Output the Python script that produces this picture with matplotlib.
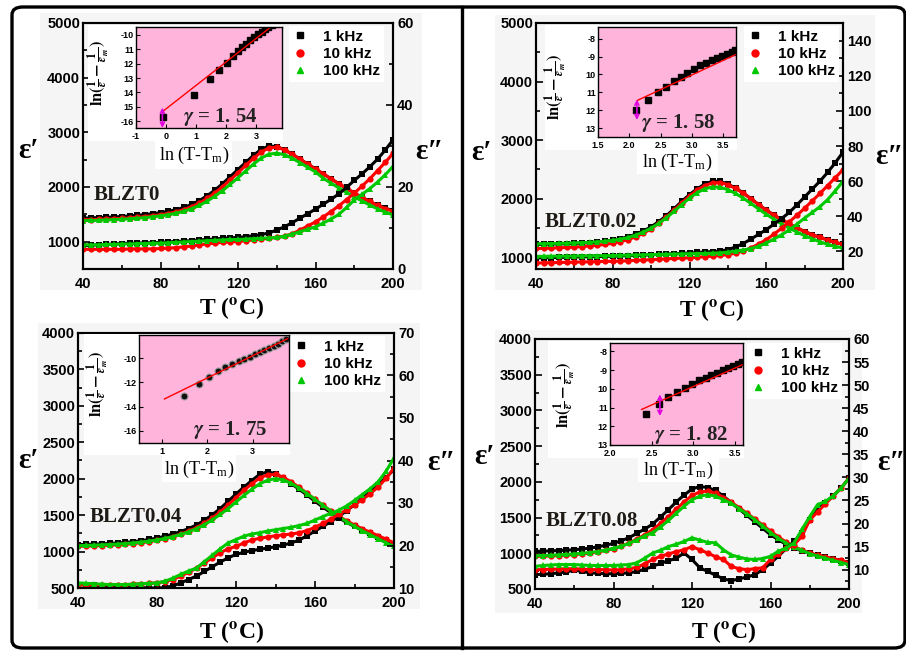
import numpy as np
import matplotlib.pyplot as plt
from matplotlib.patches import Rectangle, FancyBboxPatch
from matplotlib.lines import Line2D
from matplotlib.ticker import MultipleLocator, FixedLocator, FixedFormatter

plt.rcParams['font.family'] = ['Liberation Sans', 'DejaVu Sans']
plt.rcParams['font.weight'] = 'bold'
plt.rcParams['mathtext.fontset'] = 'stix'

# ---------------------------------------------------------------------------
# Data, temperature grid in degC
# ---------------------------------------------------------------------------
T = np.arange(40, 201, 4)
freqs = ['1 kHz', '10 kHz', '100 kHz']

# BLZT0
e1_p1 = [1430, 1435, 1440, 1445, 1452, 1460, 1470, 1482, 1496, 1512, 1530, 1555, 1585, 1625, 1680, 1750, 1840, 1940, 2060, 2190, 2320,
         2450, 2580, 2690, 2750, 2740, 2680, 2600, 2510, 2420, 2330, 2240, 2150, 2060, 1975, 1890, 1810, 1735, 1665, 1610, 1570]
e1_p2 = [1400, 1403, 1407, 1412, 1418, 1425, 1434, 1445, 1458, 1474, 1492, 1515, 1545, 1585, 1638, 1705, 1790, 1890, 2005, 2130, 2260,
         2395, 2525, 2640, 2715, 2730, 2680, 2600, 2510, 2420, 2330, 2240, 2150, 2060, 1975, 1890, 1810, 1735, 1665, 1605, 1555]
e1_p3 = [1385, 1388, 1392, 1397, 1403, 1410, 1418, 1428, 1440, 1455, 1472, 1493, 1520, 1555, 1602, 1662, 1740, 1830, 1935, 2050, 2170,
         2295, 2420, 2530, 2600, 2620, 2590, 2525, 2445, 2360, 2275, 2160, 2070, 1985, 1900, 1820, 1745, 1670, 1600, 1540, 1490]
e2_p1 = [5.7, 5.8, 5.9, 6.0, 6.1, 6.2, 6.3, 6.3, 6.4, 6.4, 6.5, 6.6, 6.7, 6.8, 6.9, 7.1, 7.2, 7.3, 7.5, 7.6, 7.7,
         7.9, 8.1, 8.4, 8.8, 9.5, 10.3, 11.3, 12.4, 13.5, 14.6, 15.8, 17.0, 18.3, 19.9, 21.6, 23.2, 24.9, 26.8, 29.0, 31.5]
e2_p2 = [4.8, 4.8, 4.8, 4.8, 4.8, 4.8, 4.9, 4.9, 4.9, 4.9, 5.0, 5.1, 5.2, 5.4, 5.6, 5.9, 6.1, 6.3, 6.5, 6.6, 6.7,
         6.9, 7.1, 7.3, 7.5, 7.7, 8.0, 8.6, 9.5, 10.5, 11.5, 12.7, 14.0, 15.4, 16.9, 18.5, 20.2, 22.0, 24.0, 26.0, 28.2]
e2_p3 = [5.9, 5.9, 5.9, 6.0, 6.0, 6.1, 6.1, 6.2, 6.2, 6.3, 6.3, 6.4, 6.5, 6.6, 6.7, 6.8, 6.9, 7.0, 7.1, 7.2, 7.2,
         7.3, 7.4, 7.5, 7.6, 7.7, 8.0, 8.5, 9.1, 9.7, 10.3, 11.2, 12.2, 13.3, 15.0, 16.8, 18.2, 19.6, 21.2, 23.0, 25.0]

# BLZT0.02
e1_q1 = [1220, 1222, 1225, 1228, 1232, 1237, 1243, 1250, 1260, 1275, 1295, 1320, 1350, 1395, 1450, 1520, 1610, 1710, 1830, 1955, 2070,
         2170, 2250, 2300, 2295, 2250, 2180, 2100, 2000, 1900, 1805, 1720, 1640, 1570, 1500, 1440, 1385, 1340, 1295, 1255, 1220]
e1_q2 = [1150, 1153, 1157, 1162, 1168, 1175, 1183, 1193, 1205, 1220, 1240, 1268, 1302, 1350, 1410, 1485, 1580, 1685, 1805, 1930, 2045,
         2145, 2225, 2270, 2275, 2240, 2175, 2095, 2000, 1900, 1805, 1720, 1640, 1570, 1500, 1440, 1385, 1340, 1295, 1255, 1220]
e1_q3 = [1230, 1232, 1235, 1238, 1241, 1245, 1250, 1256, 1264, 1275, 1290, 1310, 1338, 1380, 1432, 1498, 1580, 1675, 1785, 1900, 2010,
         2105, 2170, 2200, 2195, 2155, 2090, 2010, 1920, 1825, 1735, 1650, 1570, 1500, 1430, 1370, 1315, 1265, 1220, 1185, 1160]
e2_q1 = [16.3, 16.4, 16.5, 16.6, 16.7, 16.8, 16.9, 17.0, 17.1, 17.2, 17.3, 17.4, 17.6, 17.7, 17.9, 18.1, 18.3, 18.5, 18.7, 18.9, 19.1,
         19.4, 19.7, 19.9, 20.2, 21.0, 22.5, 24.5, 27.0, 29.7, 32.4, 35.5, 38.7, 42.2, 46.5, 51.0, 55.5, 60.0, 65.0, 70.5, 76.5]
e2_q2 = [13.4, 13.5, 13.6, 13.7, 13.8, 13.9, 14.0, 14.1, 14.2, 14.3, 14.4, 14.5, 14.7, 14.9, 15.1, 15.3, 15.5, 15.8, 16.0, 16.2, 16.4,
         16.7, 17.0, 17.3, 17.7, 18.2, 19.0, 20.2, 22.0, 24.2, 26.7, 29.8, 33.2, 36.8, 40.6, 44.6, 48.8, 53.0, 57.5, 62.0, 66.5]
e2_q3 = [17.2, 17.2, 17.3, 17.3, 17.4, 17.4, 17.5, 17.5, 17.6, 17.6, 17.7, 17.8, 17.9, 18.0, 18.1, 18.2, 18.3, 18.4, 18.5, 18.6, 18.7,
         18.8, 18.9, 19.0, 19.2, 19.6, 20.2, 20.8, 21.6, 23.0, 24.8, 27.0, 29.5, 32.2, 35.5, 39.0, 42.2, 45.5, 49.5, 54.5, 60.0]

# BLZT0.04
e1_r1 = [1095, 1098, 1102, 1106, 1111, 1118, 1126, 1136, 1150, 1166, 1186, 1210, 1240, 1275, 1315, 1365, 1430, 1505, 1590, 1690, 1790,
         1885, 1975, 2060, 2095, 2070, 2005, 1930, 1855, 1775, 1690, 1610, 1535, 1465, 1400, 1345, 1295, 1250, 1205, 1155, 1100]
e1_r2 = [1072, 1075, 1079, 1083, 1088, 1094, 1101, 1110, 1122, 1137, 1155, 1178, 1205, 1240, 1280, 1328, 1390, 1460, 1545, 1640, 1740,
         1840, 1930, 2010, 2055, 2060, 2020, 1955, 1880, 1800, 1715, 1635, 1558, 1488, 1422, 1365, 1312, 1265, 1218, 1170, 1120]
e1_r3 = [1081, 1084, 1088, 1092, 1097, 1103, 1110, 1119, 1130, 1144, 1160, 1180, 1205, 1235, 1270, 1315, 1370, 1435, 1510, 1590, 1680,
         1770, 1855, 1930, 1980, 2000, 1985, 1935, 1870, 1795, 1715, 1635, 1555, 1480, 1410, 1345, 1285, 1230, 1175, 1120, 1070]
e2_r1 = [10.8, 10.7, 10.6, 10.5, 10.5, 10.4, 10.3, 10.2, 10.1, 10.0, 10.0, 10.1, 10.5, 11.2, 12.0, 12.8, 13.9, 15.0, 16.1, 17.1, 17.9,
         18.4, 18.8, 19.1, 19.4, 19.7, 20.1, 20.6, 21.3, 22.3, 23.4, 24.5, 25.6, 26.8, 28.2, 29.6, 31.1, 32.7, 34.3, 36.0, 37.9]
e2_r2 = [10.8, 10.8, 10.8, 10.8, 10.8, 10.8, 10.8, 10.9, 11.0, 11.1, 11.2, 11.5, 12.0, 12.8, 13.7, 14.7, 15.9, 17.1, 18.3, 19.2, 19.8,
         20.6, 21.3, 21.7, 22.0, 22.3, 22.5, 22.7, 23.0, 23.5, 24.3, 25.2, 26.2, 27.3, 28.4, 29.6, 30.8, 32.2, 33.8, 35.8, 38.2]
e2_r3 = [11.2, 11.1, 11.0, 10.9, 10.8, 10.8, 10.8, 10.9, 11.0, 11.1, 11.2, 11.6, 12.3, 13.2, 14.0, 14.7, 16.2, 17.7, 19.2, 20.6, 21.4,
         22.2, 22.7, 23.0, 23.4, 23.7, 24.0, 24.3, 24.7, 25.2, 26.0, 26.8, 27.6, 28.3, 29.3, 30.6, 32.0, 33.4, 35.0, 37.5, 40.6]

# BLZT0.08
e1_s1 = [1027, 1030, 1034, 1038, 1044, 1050, 1060, 1072, 1090, 1112, 1140, 1175, 1220, 1280, 1340, 1410, 1510, 1610, 1720, 1815, 1900,
         1935, 1920, 1880, 1800, 1710, 1620, 1530, 1440, 1350, 1260, 1190, 1125, 1075, 1035, 1000, 970, 945, 920, 895, 865]
e1_s2 = [957, 960, 964, 969, 975, 982, 992, 1004, 1020, 1040, 1065, 1100, 1145, 1200, 1260, 1330, 1420, 1515, 1620, 1720, 1810,
         1860, 1870, 1840, 1780, 1715, 1640, 1560, 1480, 1395, 1310, 1230, 1155, 1095, 1045, 1005, 975, 950, 925, 900, 870]
e1_s3 = [966, 969, 973, 978, 984, 991, 1000, 1010, 1025, 1045, 1070, 1100, 1140, 1190, 1245, 1290, 1370, 1460, 1560, 1660, 1750,
         1800, 1820, 1800, 1750, 1700, 1625, 1550, 1470, 1380, 1290, 1210, 1140, 1085, 1040, 995, 960, 930, 900, 870, 841]
e2_s1 = [8.9, 9.0, 9.1, 9.3, 9.5, 9.9, 9.6, 9.3, 9.2, 9.1, 9.1, 9.2, 9.3, 9.6, 10.1, 10.7, 11.4, 11.9, 12.5, 13.6, 12.2,
         10.4, 9.6, 8.8, 8.0, 7.6, 8.0, 8.4, 8.9, 10.0, 11.4, 12.9, 14.6, 16.1, 17.9, 20.8, 23.0, 24.5, 26.0, 27.7, 29.8]
e2_s2 = [10.0, 10.0, 10.1, 10.1, 10.2, 10.2, 10.1, 10.0, 10.0, 10.0, 9.9, 10.0, 10.2, 10.5, 11.3, 12.2, 12.9, 13.4, 13.9, 14.3, 15.0,
         14.3, 13.6, 12.8, 12.2, 10.7, 10.2, 10.0, 10.2, 10.4, 12.2, 13.4, 14.6, 15.4, 17.2, 20.8, 22.5, 24.3, 26.0, 27.7, 29.8]
e2_s3 = [10.7, 10.9, 11.0, 11.1, 11.1, 11.1, 11.0, 10.9, 10.9, 10.9, 10.9, 11.0, 11.1, 11.5, 12.5, 13.6, 14.2, 15.0, 15.5, 16.1, 16.9,
         16.4, 15.9, 15.8, 14.3, 13.2, 12.7, 12.3, 12.2, 12.4, 12.9, 14.0, 14.7, 15.8, 18.7, 21.5, 24.1, 24.8, 26.0, 27.7, 29.8]

# insets: ln(1/e - 1/em) vs ln(T - Tm), plus linear fit end points
in1_x = [-0.1, 0.95, 1.46, 1.78, 2.03, 2.23, 2.39, 2.53, 2.68, 2.81, 2.95, 3.07, 3.19, 3.30, 3.41, 3.52]
in1_y = [-15.7, -14.2, -13.1, -12.47, -11.96, -11.45, -11.15, -10.88, -10.62, -10.40, -10.17, -9.98, -9.80, -9.63, -9.47, -9.30]
fit1_x, fit1_y = [-0.1, 3.6], [-15.3, -9.3]
in2_x = [2.11, 2.29, 2.45, 2.59, 2.71, 2.82, 2.92, 3.03, 3.13, 3.22, 3.31, 3.40, 3.48, 3.56, 3.63, 3.69]
in2_y = [-12.0, -11.45, -11.0, -10.7, -10.38, -10.14, -9.90, -9.70, -9.50, -9.35, -9.20, -9.07, -8.95, -8.84, -8.74, -8.66]
fit2_x, fit2_y = [2.13, 3.72], [-11.45, -8.85]
in3_x = [1.5, 1.81, 2.03, 2.24, 2.4, 2.55, 2.69, 2.82, 2.94, 3.05, 3.16, 3.26, 3.36, 3.46, 3.55, 3.64, 3.73]
in3_y = [-13.1, -12.17, -11.55, -11.1, -10.74, -10.46, -10.25, -10.07, -9.88, -9.70, -9.52, -9.35, -9.18, -9.0, -8.82, -8.62, -8.40]
fit3_x, fit3_y = [1.06, 3.77], [-13.37, -8.40]
in4_x = [2.43, 2.59, 2.70, 2.80, 2.90, 2.99, 3.07, 3.15, 3.22, 3.29, 3.36, 3.42, 3.48, 3.54, 3.59]
in4_y = [-11.35, -10.8, -10.45, -10.18, -9.95, -9.75, -9.55, -9.40, -9.26, -9.13, -9.0, -8.88, -8.77, -8.67, -8.58]
fit4_x, fit4_y = [2.38, 3.6], [-11.1, -8.7]

samples = ['BLZT0', 'BLZT0.02', 'BLZT0.04', 'BLZT0.08']
gammas = ['1. 54', '1. 58', '1. 75', '1. 82']

# ---------------------------------------------------------------------------
W, H = 906, 651
fig = plt.figure(figsize=(W / 100, H / 100), dpi=100)
fig.patch.set_facecolor('white')

COLS = ['#000000', '#ff0000', '#00c800']
MARKS = ['s', 'o', '^']
PINK = '#ffb4dc'
GRAY = '#f5f5f5'
SERIF = ['Liberation Serif', 'DejaVu Serif']


def px_axes(x0, y0, x1, y1, **kw):
    return fig.add_axes([x0 / W, 1 - y1 / H, (x1 - x0) / W, (y1 - y0) / H], **kw)


def px_rect(x0, y0, x1, y1, color, z):
    fig.add_artist(Rectangle((x0 / W, 1 - y1 / H), (x1 - x0) / W, (y1 - y0) / H,
                             transform=fig.transFigure, facecolor=color,
                             edgecolor='none', zorder=z))


def px_text(x, y, s, **kw):
    fig.text(x / W, 1 - y / H, s, ha='center', va='center', **kw)


def main_panel(box, bg, e1, e2, ylim1, ylim2, ymaj1, ymaj2, ymin1, ymin2):
    px_rect(*bg, GRAY, -1)
    ax = px_axes(*box)
    ax.set_facecolor(GRAY)
    ax2 = ax.twinx()
    for vals, c, m in zip(e1, COLS, MARKS):
        ax.plot(T, vals, color=c, marker=m, ms=4.5, mew=0, lw=2.2)
    for vals, c, m in zip(e2, COLS, MARKS):
        ax2.plot(T, vals, color=c, marker=m, ms=4.5, mew=0, lw=2.2)
    ax.set_xlim(40, 200)
    ax.set_ylim(*ylim1)
    ax2.set_ylim(*ylim2)
    ax.xaxis.set_major_locator(MultipleLocator(40))
    ax.xaxis.set_minor_locator(MultipleLocator(20))
    ax.yaxis.set_major_locator(MultipleLocator(ymaj1))
    ax.yaxis.set_minor_locator(MultipleLocator(ymin1))
    ax2.yaxis.set_major_locator(MultipleLocator(ymaj2))
    ax2.yaxis.set_minor_locator(MultipleLocator(ymin2))
    for a in (ax, ax2):
        a.tick_params(which='both', direction='in', labelsize=10.5, pad=2, width=1.2)
        a.tick_params(which='major', length=5)
        a.tick_params(which='minor', length=3)
        for s in a.spines.values():
            s.set_linewidth(1.5)
    ax.tick_params(axis='x', pad=6)
    ax2.tick_params(axis='y', pad=3)
    ax.tick_params(right=False, top=False)
    return ax, ax2


def inset(box, white, xlim, ylim, xticks, xlabels, yticks, ylabels,
          px, py, fx, fy, arrow, gamma, gpos, mk='s'):
    px_rect(*white, 'white', 1)
    ai = px_axes(*box, zorder=2)
    ai.set_facecolor(PINK)
    if mk == 'o':
        ai.plot(px, py, 'o', color='k', ms=5, mfc='#111111', mec='#9a9a9a', mew=0.8)
    else:
        ai.plot(px, py, 's', color='k', ms=5)
    ai.plot(fx, fy, '-', color='red', lw=1)
    if arrow is not None:
        ai.annotate('', xy=(arrow[0], arrow[1]), xytext=(arrow[0], arrow[2]),
                    arrowprops=dict(arrowstyle='<->', color='#e000e0', lw=1.2,
                                    shrinkA=0, shrinkB=0, mutation_scale=7))
    ai.set_xlim(*xlim)
    ai.set_ylim(*ylim)
    ai.xaxis.set_major_locator(FixedLocator(xticks))
    ai.xaxis.set_major_formatter(FixedFormatter(xlabels))
    ai.yaxis.set_major_locator(FixedLocator(yticks))
    ai.yaxis.set_major_formatter(FixedFormatter(ylabels))
    ai.tick_params(direction='in', labelsize=6.5, length=3, pad=1.5, width=0.8)
    ai.tick_params(axis='x', pad=3)
    for s in ai.spines.values():
        s.set_linewidth(1.0)
    ai.text(gpos[0], gpos[1], r'$\gamma$ = ' + gamma, transform=ai.transAxes,
            fontsize=15, family=SERIF, fontweight='bold', va='center', ha='left',
            color='#222222')
    return ai


def legend(ax2, x0, y0):
    handles = [Line2D([], [], ls='none', marker=m, color=c, ms=5) for c, m in zip(COLS, MARKS)]
    ax2.legend(handles, freqs, loc='upper left', bbox_to_anchor=(x0 / W, 1 - y0 / H),
               bbox_transform=fig.transFigure, frameon=True, facecolor='white',
               edgecolor='none', framealpha=1, fancybox=False,
               prop=dict(family='Liberation Sans', weight='bold', size=11),
               handlelength=1.0, handletextpad=1.0, labelspacing=0.2,
               borderpad=0.25, borderaxespad=0)


YLAB = r'$\ln(\frac{1}{\varepsilon}-\frac{1}{\varepsilon_m})$'
YLAB_KW = dict(fontsize=12, rotation=90, zorder=3, fontweight='normal')
EPS_KW = dict(fontsize=21, family=SERIF, fontweight='bold')
TL_KW = dict(fontsize=17, family=SERIF, fontweight='bold')
SMP_KW = dict(fontsize=15, family=SERIF, fontweight='bold', color='#1e1a16')
INX_KW = dict(fontsize=13, family=SERIF, fontweight='normal', zorder=3)
INX = r'ln (T-T$_\mathregular{m}$)'
TLAB = r'T ($^{\mathbf{o}}$C)'

# ----- panel 1 : BLZT0 -----
ax, ax2 = main_panel((83, 23, 393, 269), (40, 13, 422, 290), [e1_p1, e1_p2, e1_p3],
                     [e2_p1, e2_p2, e2_p3], (500, 5000), (0, 60), 1000, 20, 500, 10)
ax.yaxis.set_major_locator(FixedLocator([1000, 2000, 3000, 4000, 5000]))
legend(ax2, 289, 26)
inset((136, 27, 282, 128), (88, 25, 283, 141), (-1, 3.87), (-16.46, -9.47),
      [-1, 0, 1, 2, 3], ['-1', '0', '1', '2', '3'],
      [-16, -15, -14, -13, -12, -11, -10], ['-16', '15', '14', '13', '12', '11', '-10'],
      in1_x, in1_y, fit1_x, fit1_y, (-0.12, -15.05, -16.45), gammas[0], (0.32, 0.11))
px_rect(155, 141, 232, 169, 'white', 1)
px_text(99, 73, YLAB, **YLAB_KW)
px_text(194, 155, INX, **INX_KW)
px_text(29, 150, 'ε′', **EPS_KW)
px_text(429, 152, 'ε″', **EPS_KW)
px_text(232, 308, TLAB, **TL_KW)
fig.text(94 / W, 1 - 195 / H, samples[0], ha='left', va='center', **SMP_KW)

# ----- panel 2 : BLZT0.02 -----
ax, ax2 = main_panel((536, 23, 843, 269), (495, 15, 875, 290), [e1_q1, e1_q2, e1_q3],
                     [e2_q1, e2_q2, e2_q3], (800, 5000), (10, 150), 1000, 20, 500, 10)
ax.yaxis.set_major_locator(FixedLocator([1000, 2000, 3000, 4000, 5000]))
ax2.yaxis.set_major_locator(FixedLocator([20, 40, 60, 80, 100, 120, 140]))
legend(ax2, 744, 26)
inset((598, 27, 736, 137), (545, 25, 737, 150), (1.5, 3.7), (-13.5, -7.35),
      [1.5, 2.0, 2.5, 3.0, 3.5], ['1.5', '2.0', '2.5', '3.0', '3.5'],
      [-13, -12, -11, -10, -9, -8], ['13', '12', '11', '10', '-9', '-8'],
      in2_x, in2_y, fit2_x, fit2_y, (2.12, -11.4, -12.55), gammas[1], (0.31, 0.125))
px_rect(637, 150, 718, 174, 'white', 1)
px_text(556, 87, YLAB, **YLAB_KW)
px_text(677, 162, INX, **INX_KW)
px_text(482, 153, 'ε′', **EPS_KW)
px_text(890, 157, 'ε″', **EPS_KW)
px_text(712, 310, TLAB, **TL_KW)
fig.text(545 / W, 1 - 222 / H, samples[1], ha='left', va='center', **SMP_KW)

# ----- panel 3 : BLZT0.04 -----
ax, ax2 = main_panel((78, 333, 394, 588), (38, 323, 420, 609), [e1_r1, e1_r2, e1_r3],
                     [e2_r1, e2_r2, e2_r3], (500, 4000), (10, 70), 500, 10, 250, 5)
legend(ax2, 290, 336)
inset((139, 335, 289, 443), (84, 334, 290, 455), (0.5, 3.8), (-17, -8.1),
      [1, 2, 3], ['1', '2', '3'],
      [-16, -14, -12, -10], ['-16', '-14', '-12', '-10'],
      in3_x, in3_y, fit3_x, fit3_y, None, gammas[2], (0.36, 0.12), mk='o')
px_rect(162, 455, 236, 482, 'white', 1)
px_text(98, 384, YLAB, **YLAB_KW)
px_text(199, 469, INX, **INX_KW)
px_text(29, 461, 'ε′', **EPS_KW)
px_text(442, 463, 'ε″', **EPS_KW)
px_text(232, 632, TLAB, **TL_KW)
fig.text(90 / W, 1 - 517 / H, samples[2], ha='left', va='center', **SMP_KW)

# ----- panel 4 : BLZT0.08 -----
ax, ax2 = main_panel((535, 339, 849, 589), (495, 330, 862, 613), [e1_s1, e1_s2, e1_s3],
                     [e2_s1, e2_s2, e2_s3], (500, 4000), (5.8, 60), 500, 5, 250, 2.5)
ax2.yaxis.set_major_locator(FixedLocator([10, 15, 20, 25, 30, 35, 40, 45, 50, 55, 60]))
legend(ax2, 747, 343)
inset((610, 343, 743, 445), (548, 341, 744, 458), (2.0, 3.6), (-13, -7.55),
      [2.0, 2.5, 3.0, 3.5], ['2.0', '2.5', '3.0', '3.5'],
      [-13, -12, -11, -10, -9, -8], ['13', '12', '11', '10', '-9', '-8'],
      in4_x, in4_y, fit4_x, fit4_y, (2.6, -10.3, -11.45), gammas[3], (0.33, 0.1))
px_rect(638, 458, 719, 482, 'white', 1)
px_text(565, 395, YLAB, **YLAB_KW)
px_text(678, 470, INX, **INX_KW)
px_text(485, 457, 'ε′', **EPS_KW)
px_text(892, 463, 'ε″', **EPS_KW)
px_text(724, 632, TLAB, **TL_KW)
fig.text(546 / W, 1 - 521 / H, samples[3], ha='left', va='center', **SMP_KW)

# ----- outer frame and column divider -----
frame = FancyBboxPatch((12 / W, 1 - 648 / H), (905 - 12) / W, (648 - 7) / H,
                       boxstyle='round,pad=0,rounding_size=0.012',
                       transform=fig.transFigure, facecolor='none',
                       edgecolor='black', lw=2.4, zorder=5)
fig.add_artist(frame)
fig.add_artist(Line2D([462 / W, 462 / W], [1 - 7 / H, 1 - 648 / H],
                      transform=fig.transFigure, color='black', lw=2.4, zorder=5))

fig.savefig('out.png', dpi=100, facecolor='white')
